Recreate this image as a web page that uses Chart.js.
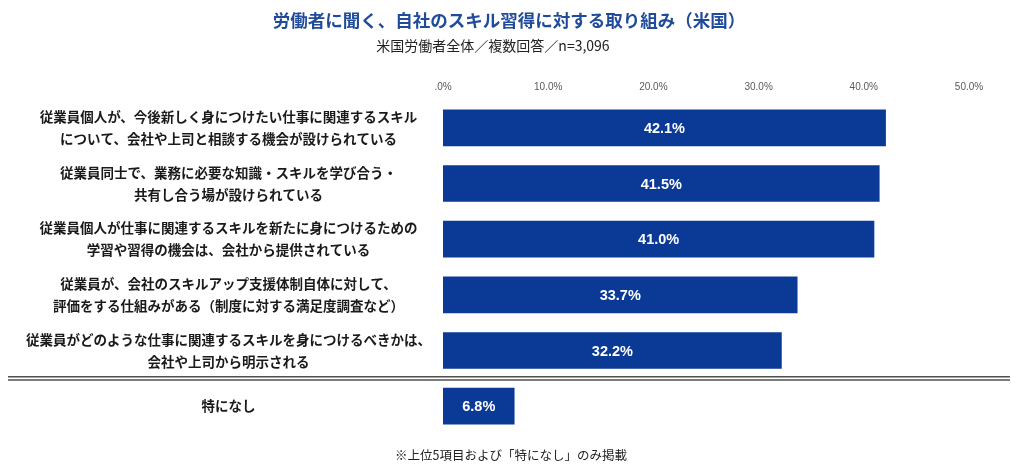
<!DOCTYPE html>
<html lang="ja">
<head>
<meta charset="utf-8">
<script src="https://cdn.jsdelivr.net/npm/chart.js@4.4.1/dist/chart.umd.min.js"></script>
<style>
  html, body { margin: 0; padding: 0; background: #fff; }
  #wrap { position: relative; width: 1024px; height: 472px; font-family: "Noto Sans CJK JP", sans-serif; }
  #chart { position: absolute; left: 0; top: 0; }
  .txt { position: absolute; left: 0; width: 1024px; text-align: center; white-space: nowrap; }
  #title { top: 7px; font-size: 17.5px; font-weight: bold; color: #1f4b9a; line-height: 26px; transform: translateX(-3px); }
  #subtitle { top: 35px; font-size: 14px; color: #222; line-height: 20px; transform: translateX(-19px); }
  #note { top: 445px; font-size: 12.5px; color: #222; line-height: 20px; transform: translateX(-1px); }
</style>
</head>
<body>
<div id="wrap">
  <canvas id="chart" width="1024" height="472"></canvas>
  <div class="txt" id="title">労働者に聞く、自社のスキル習得に対する取り組み（米国）</div>
  <div class="txt" id="subtitle">米国労働者全体／複数回答／n=3,096</div>
  <div class="txt" id="note">※上位5項目および「特になし」のみ掲載</div>
</div>
<script>
var categories = [
  ["従業員個人が、今後新しく身につけたい仕事に関連するスキル", "について、会社や上司と相談する機会が設けられている"],
  ["従業員同士で、業務に必要な知識・スキルを学び合う・", "共有し合う場が設けられている"],
  ["従業員個人が仕事に関連するスキルを新たに身につけるための", "学習や習得の機会は、会社から提供されている"],
  ["従業員が、会社のスキルアップ支援体制自体に対して、", "評価をする仕組みがある（制度に対する満足度調査など）"],
  ["従業員がどのような仕事に関連するスキルを身につけるべきかは、", "会社や上司から明示される"],
  "特になし",
];
var values = [42.1, 41.5, 41.0, 33.7, 32.2, 6.8];
var tickLabels = [".0%", "10.0%", "20.0%", "30.0%", "40.0%", "50.0%"];

var barColor = "#0b3a96";

// white value labels in the middle of each bar
var barLabels = {
  id: "barLabels",
  afterDatasetsDraw: function (chart) {
    var ctx = chart.ctx;
    var meta = chart.getDatasetMeta(0);
    ctx.save();
    ctx.fillStyle = "#ffffff";
    ctx.font = "bold 14.5px 'Liberation Sans', sans-serif";
    ctx.textAlign = "center";
    ctx.textBaseline = "middle";
    meta.data.forEach(function (bar, i) {
      ctx.fillText(values[i].toFixed(1) + "%", (bar.x + bar.base) / 2, bar.y + 1);
    });
    ctx.restore();
  },
};

// double rule between the top 5 and "特になし"
var separator = {
  id: "separator",
  afterDraw: function (chart) {
    var y = chart.scales.y;
    var mid = (y.getPixelForValue(4) + y.getPixelForValue(5)) / 2;
    var ctx = chart.ctx;
    ctx.save();
    ctx.strokeStyle = "#505050";
    ctx.lineWidth = 1.4;
    [mid - 1.6, mid + 1.6].forEach(function (ly) {
      ctx.beginPath();
      ctx.moveTo(8, ly);
      ctx.lineTo(1010, ly);
      ctx.stroke();
    });
    ctx.restore();
  },
};

new Chart(document.getElementById("chart"), {
  type: "bar",
  data: {
    labels: categories,
    datasets: [
      {
        data: values,
        backgroundColor: barColor,
        borderWidth: 0,
        barPercentage: 0.66,
        categoryPercentage: 1.0,
      },
    ],
  },
  options: {
    indexAxis: "y",
    responsive: false,
    animation: false,
    layout: { padding: { top: 0, right: 55, bottom: 38, left: 0 } },
    plugins: {
      legend: { display: false },
      tooltip: { enabled: false },
    },
    scales: {
      x: {
        position: "top",
        min: 0,
        max: 50,
        grid: { display: false },
        border: { display: false },
        afterFit: function (scale) {
          scale.height = 100;
        },
        ticks: {
          stepSize: 10,
          padding: -1,
          color: "#595959",
          font: { family: "'Liberation Sans', sans-serif", size: 10 },
          callback: function (value, index) {
            return tickLabels[index];
          },
        },
      },
      y: {
        grid: { display: false },
        border: { display: false },
        afterFit: function (scale) {
          scale.width = 443;
        },
        ticks: {
          crossAlign: "center",
          padding: 4,
          color: "#1a1a1a",
          font: { family: "'Noto Sans CJK JP', sans-serif", size: 13.5, weight: "bold", lineHeight: 1.63 },
        },
      },
    },
  },
  plugins: [barLabels, separator],
});
</script>
</body>
</html>
